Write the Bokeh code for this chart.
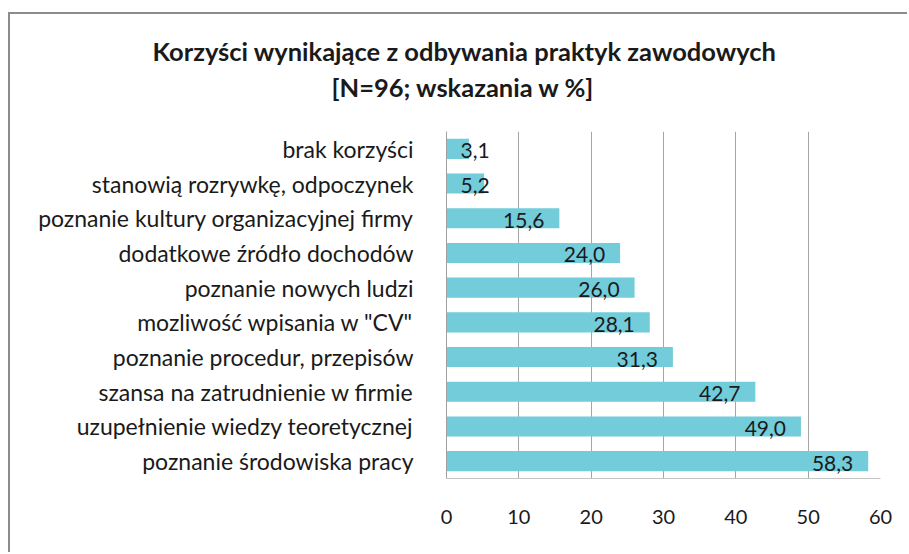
from bokeh.plotting import figure
from bokeh.models import FactorRange, Range1d, Title, ColumnDataSource, FixedTicker
from bokeh.embed import file_html
from bokeh.resources import INLINE
from bokeh.core.properties import value

categories = [
    "brak korzyści",
    "stanowią rozrywkę, odpoczynek",
    "poznanie kultury organizacyjnej firmy",
    "dodatkowe źródło dochodów",
    "poznanie nowych ludzi",
    "mozliwość wpisania w \"CV\"",
    "poznanie procedur, przepisów",
    "szansa na zatrudnienie w firmie",
    "uzupełnienie wiedzy teoretycznej",
    "poznanie środowiska pracy",
]
values = [3.1, 5.2, 15.6, 24.0, 26.0, 28.1, 31.3, 42.7, 49.0, 58.3]
x_ticks = [0, 10, 20, 30, 40, 50, 60]
title_lines = ["Korzyści wynikające z odbywania praktyk zawodowych", "[N=96; wskazania w %]"]

FONT = "Lato"
BAR = "#72CCDA"

labels = [f"{v:.1f}".replace(".", ",") for v in values]
fits = [v > 8 for v in values]
src = ColumnDataSource(dict(
    cat=categories, val=values, lab=labels,
    lx=[v if f else 0 for v, f in zip(values, fits)],
    align=["right" if f else "left" for f in fits],
    xoff=[-15 if f else 14 for f in fits],
))

W, H = 899, 540
p = figure(width=W, height=H, output_backend="svg", toolbar_location=None,
           y_range=FactorRange(factors=categories[::-1], range_padding=0),
           x_range=Range1d(0, 60),
           min_border_left=436, min_border_right=29, min_border_top=117, min_border_bottom=76)
p.y_range.range_padding = 0
p.outline_line_color = None
p.background_fill_color = "white"
p.border_fill_color = "white"

p.hbar(y="cat", right="val", left=0, height=0.58, source=src, color=BAR, line_color=None)
p.text(x="lx", y="cat", text="lab", source=src, text_align="align", x_offset="xoff",
       text_baseline="middle", y_offset=2, text_font=value(FONT), text_font_size="21px",
       text_color="#1a1a1a")

p.xaxis.ticker = FixedTicker(ticks=x_ticks)
p.xaxis.major_tick_line_color = None
p.xaxis.minor_tick_line_color = None
p.xaxis.axis_line_color = "#c4c4c4"
p.xaxis.major_label_standoff = 25
p.xaxis.major_label_text_font = FONT
p.xaxis.major_label_text_font_size = "20px"
p.xaxis.major_label_text_color = "#1a1a1a"

p.yaxis.major_tick_line_color = None
p.yaxis.minor_tick_line_color = None
p.yaxis.axis_line_color = "#a0a0a0"
p.yaxis.major_label_standoff = 27
p.yaxis.major_label_text_font = FONT
p.yaxis.major_label_text_font_size = "23px"
p.yaxis.major_label_text_color = "#1a1a1a"

p.xgrid.grid_line_color = "#a6a6a6"
p.xgrid.ticker = FixedTicker(ticks=x_ticks)
p.ygrid.grid_line_color = None

# panels stack outward from the frame: spacer, second line, first line
p.add_layout(Title(text=" ", text_font_size="1px", standoff=25), "above")
p.add_layout(Title(text=title_lines[1], align="left", offset=-115, standoff=4,
                   text_font=FONT, text_font_size="25.5px", text_font_style="bold",
                   text_color="#1a1a1a"), "above")
p.add_layout(Title(text=title_lines[0], align="left", offset=-294, standoff=4,
                   text_font=FONT, text_font_size="25.5px", text_font_style="bold",
                   text_color="#1a1a1a"), "above")

p.styles = {"margin-left": "8px", "margin-top": "12px",
            "border-left": "2px solid #8c8c8c", "border-top": "2px solid #8c8c8c"}

open("out.html", "w").write(file_html(p, INLINE))
